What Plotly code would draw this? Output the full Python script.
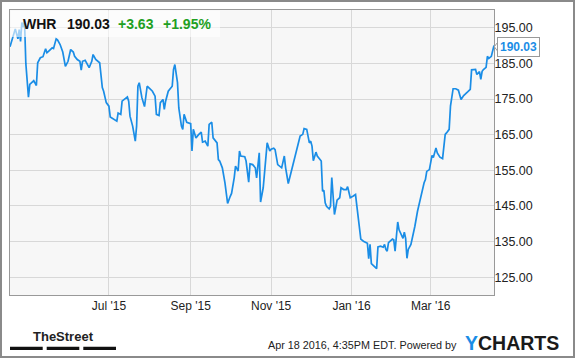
import plotly.graph_objects as go

dates = [
    "2015-04-17", "2015-04-21", "2015-04-23", "2015-04-24", "2015-04-25", "2015-04-26", "2015-04-27", "2015-04-28",
    "2015-04-29", "2015-04-30", "2015-05-01", "2015-05-02", "2015-05-04", "2015-05-05", "2015-05-07", "2015-05-08",
    "2015-05-10", "2015-05-12", "2015-05-14", "2015-05-15", "2015-05-17", "2015-05-19", "2015-05-20", "2015-05-22",
    "2015-05-23", "2015-05-25", "2015-05-27", "2015-05-29", "2015-05-31", "2015-06-02", "2015-06-04", "2015-06-05",
    "2015-06-07", "2015-06-09", "2015-06-10", "2015-06-11", "2015-06-13", "2015-06-15", "2015-06-16", "2015-06-18",
    "2015-06-19", "2015-06-21", "2015-06-23", "2015-06-24", "2015-06-26", "2015-06-27", "2015-06-29", "2015-07-01",
    "2015-07-02", "2015-07-04", "2015-07-07", "2015-07-08", "2015-07-10", "2015-07-11", "2015-07-13", "2015-07-15",
    "2015-07-16", "2015-07-17", "2015-07-19", "2015-07-21", "2015-07-22", "2015-07-23", "2015-07-24", "2015-07-26",
    "2015-07-28", "2015-07-30", "2015-08-01", "2015-08-03", "2015-08-05", "2015-08-06", "2015-08-08", "2015-08-09",
    "2015-08-11", "2015-08-12", "2015-08-13", "2015-08-15", "2015-08-16", "2015-08-18", "2015-08-19", "2015-08-20",
    "2015-08-22", "2015-08-23", "2015-08-25", "2015-08-26", "2015-08-27", "2015-08-29", "2015-09-01", "2015-09-02",
    "2015-09-03", "2015-09-05", "2015-09-07", "2015-09-09", "2015-09-10", "2015-09-12", "2015-09-14", "2015-09-15",
    "2015-09-17", "2015-09-18", "2015-09-21", "2015-09-22", "2015-09-23", "2015-09-25", "2015-09-27", "2015-09-29",
    "2015-10-01", "2015-10-02", "2015-10-04", "2015-10-05", "2015-10-07", "2015-10-08", "2015-10-09", "2015-10-12",
    "2015-10-13", "2015-10-15", "2015-10-16", "2015-10-18", "2015-10-20", "2015-10-21", "2015-10-23", "2015-10-24",
    "2015-10-26", "2015-10-28", "2015-10-29", "2015-10-31", "2015-11-01", "2015-11-03", "2015-11-04", "2015-11-06",
    "2015-11-09", "2015-11-11", "2015-11-12", "2015-11-14", "2015-11-16", "2015-11-18", "2015-11-19", "2015-11-21",
    "2015-11-23", "2015-11-25", "2015-11-26", "2015-11-28", "2015-11-29", "2015-11-30", "2015-12-01", "2015-12-02",
    "2015-12-03", "2015-12-05", "2015-12-06", "2015-12-08", "2015-12-09", "2015-12-10", "2015-12-11", "2015-12-12",
    "2015-12-13", "2015-12-15", "2015-12-16", "2015-12-17", "2015-12-18", "2015-12-19", "2015-12-20", "2015-12-21",
    "2015-12-23", "2015-12-24", "2015-12-26", "2015-12-28", "2015-12-29", "2015-12-31", "2016-01-02", "2016-01-04",
    "2016-01-05", "2016-01-07", "2016-01-08", "2016-01-10", "2016-01-13", "2016-01-14", "2016-01-15", "2016-01-16",
    "2016-01-18", "2016-01-20", "2016-01-21", "2016-01-23", "2016-01-25", "2016-01-26", "2016-01-27", "2016-01-28",
    "2016-01-29", "2016-01-30", "2016-02-01", "2016-02-02", "2016-02-03", "2016-02-04", "2016-02-05", "2016-02-06",
    "2016-02-08", "2016-02-09", "2016-02-10", "2016-02-11", "2016-02-12", "2016-02-13", "2016-02-15", "2016-02-16",
    "2016-02-18", "2016-02-20", "2016-02-22", "2016-02-24", "2016-02-25", "2016-02-26", "2016-02-27", "2016-02-29",
    "2016-03-01", "2016-03-02", "2016-03-03", "2016-03-05", "2016-03-06", "2016-03-08", "2016-03-10", "2016-03-12",
    "2016-03-13", "2016-03-15", "2016-03-16", "2016-03-18", "2016-03-20", "2016-03-22", "2016-03-24", "2016-03-26",
    "2016-03-29", "2016-03-31", "2016-04-01", "2016-04-04", "2016-04-05", "2016-04-07", "2016-04-08", "2016-04-09",
    "2016-04-10", "2016-04-12", "2016-04-13", "2016-04-14", "2016-04-16", "2016-04-17", "2016-04-18",
]

prices = [
    189.7, 194.7, 191.9, 194.5, 191.2, 196.5, 195.2, 196.9,
    185.0, 180.5, 175.5, 179.1, 180.0, 180.2, 178.8, 185.2,
    186.6, 186.9, 189.1, 188.0, 188.7, 189.4, 189.2, 191.9,
    191.6, 190.3, 188.2, 184.2, 185.6, 188.9, 188.2, 187.0,
    186.1, 185.6, 183.1, 185.6, 185.9, 184.4, 183.8, 185.6,
    187.5, 186.1, 185.3, 185.2, 178.2, 177.2, 174.0, 173.0,
    170.0, 169.5, 168.8, 171.1, 170.7, 174.4, 174.9, 175.6,
    174.4, 170.2, 167.4, 163.2, 167.4, 178.6, 179.6, 175.4,
    172.9, 178.6, 177.9, 177.2, 175.8, 170.7, 170.4, 174.0,
    174.9, 172.1, 174.4, 177.2, 177.7, 178.6, 183.3, 184.7,
    179.6, 172.5, 167.4, 166.5, 170.7, 168.5, 168.1, 160.4,
    166.5, 164.1, 165.0, 165.7, 162.9, 163.2, 161.8, 167.9,
    168.5, 164.1, 162.7, 158.0, 157.6, 155.7, 151.5, 145.7,
    147.7, 148.5, 152.9, 156.2, 154.8, 160.4, 159.0, 158.8,
    157.6, 151.7, 156.8, 156.6, 155.7, 152.9, 159.9, 146.1,
    150.1, 158.0, 162.7, 160.4, 160.9, 161.2, 160.8, 156.6,
    155.7, 159.0, 155.7, 151.3, 154.3, 157.6, 159.0, 162.3,
    164.6, 165.1, 166.7, 166.5, 164.6, 162.7, 163.2, 161.8,
    157.7, 160.1, 159.0, 158.0, 157.6, 149.1, 149.4, 145.9,
    144.9, 144.2, 144.9, 153.0, 147.7, 142.6, 144.5, 146.6,
    147.3, 150.1, 149.6, 149.6, 150.4, 147.3, 147.7, 148.2,
    145.0, 139.4, 135.7, 135.1, 134.5, 130.2, 134.2, 128.8,
    128.1, 127.4, 133.5, 133.7, 133.4, 134.2, 132.8, 132.3,
    134.7, 135.1, 135.7, 135.5, 132.3, 136.5, 140.5, 138.3,
    136.9, 135.9, 137.6, 135.9, 130.3, 132.8, 134.2, 135.7,
    139.3, 143.5, 146.8, 150.1, 151.5, 152.4, 154.7, 155.2,
    157.6, 159.2, 158.6, 161.3, 159.9, 158.7, 158.3, 165.1,
    165.5, 166.5, 173.0, 177.9, 177.9, 177.5, 174.9, 176.0,
    177.0, 177.7, 183.2, 183.3, 181.9, 182.7, 180.5, 182.8,
    183.3, 183.9, 187.0, 186.4, 187.0, 188.9, 190.03,
]

x_tick_vals = ["2015-07-01", "2015-09-01", "2015-11-01", "2016-01-01", "2016-03-01"]
x_tick_text = ["Jul '15", "Sep '15", "Nov '15", "Jan '16", "Mar '16"]
y_tick_vals = [125, 135, 145, 155, 165, 175, 185, 195]

ticker = "WHR"
last_price = "190.03"
change = "+3.63"
change_pct = "+1.95%"
footer_text = "Apr 18 2016, 4:35PM EDT. Powered by"

BLUE = "#1a8de6"
GREEN = "#22a022"
FONT = "Arial, Liberation Sans, sans-serif"

# layout geometry (pixels)
W, H = 575, 358
L, R, T, B = 10, 81, 10, 63
PW, PH = W - L - R, H - T - B


def px(x):
    return (x - L) / PW


def py(y):
    return (H - B - y) / PH


fig = go.Figure()
fig.add_trace(go.Scatter(
    x=dates, y=prices, mode="lines",
    line=dict(color=BLUE, width=1.7), hoverinfo="skip", showlegend=False,
))

shapes = []
# outer border
shapes.append(dict(type="rect", xref="paper", yref="paper",
                   x0=px(1), x1=px(574), y0=py(357), y1=py(1),
                   line=dict(color="#8a8a8a", width=2), fillcolor="rgba(0,0,0,0)", layer="above"))
# header translucent box
shapes.append(dict(type="rect", xref="paper", yref="paper",
                   x0=px(10.5), x1=px(220), y0=py(37), y1=py(10.5),
                   line=dict(width=0), fillcolor="rgba(255,255,255,0.6)", layer="above"))
# TheStreet bars
for a, b in [(10, 42.7), (46.7, 79.3), (83.3, 116)]:
    shapes.append(dict(type="rect", xref="paper", yref="paper",
                       x0=px(a), x1=px(b), y0=py(350), y1=py(346.7),
                       line=dict(width=0), fillcolor="#111"))
# pointer of last-price label
shapes.append(dict(type="path", xref="paper", yref="paper",
                   path=f"M {px(497.5)},{py(42.5)} L {px(494.3)},{py(46.7)} L {px(497.5)},{py(51)}",
                   line=dict(color="#999", width=1), fillcolor="white", layer="above"))

annotations = [
    dict(text="<b>" + ticker + "</b>", x=px(20.5), y=py(24), xanchor="left", yanchor="middle",
         font=dict(size=14, color="#111")),
    dict(text="<b>" + last_price + "</b>", x=px(64.5), y=py(24), xanchor="left", yanchor="middle",
         font=dict(size=14, color="#111")),
    dict(text="<b>" + change + "</b>", x=px(115.5), y=py(24), xanchor="left", yanchor="middle",
         font=dict(size=14, color=GREEN)),
    dict(text="<b>" + change_pct + "</b>", x=px(160.5), y=py(24), xanchor="left", yanchor="middle",
         font=dict(size=14, color=GREEN)),
    dict(text="<b>" + last_price + "</b>", x=px(497), y=py(46.7), xanchor="left", yanchor="middle",
         font=dict(size=12, color=BLUE), bgcolor="white", bordercolor="#999", borderwidth=1, borderpad=2),
    dict(text="<b>TheStreet</b>", x=px(63), y=py(336.5), xanchor="center", yanchor="middle",
         font=dict(size=13, color="#222", family="Liberation Sans Narrow, Arial Narrow, sans-serif")),
    dict(text=footer_text, x=px(459), y=py(345.5), xanchor="right", yanchor="middle",
         font=dict(size=10.8, color="#222")),
    dict(text=f"<b><span style='color:{BLUE}'>Y</span>CHARTS</b>", x=px(463), y=py(342.5),
         xanchor="left", yanchor="middle", font=dict(size=19.5, color="#1a1a1a")),
]
for a in annotations:
    a.update(xref="paper", yref="paper", showarrow=False)

fig.update_layout(
    width=W, height=H,
    margin=dict(l=L, r=R, t=T, b=B, pad=0),
    paper_bgcolor="white", plot_bgcolor="#f7f7f7",
    font=dict(family=FONT, size=12, color="#222"),
    shapes=shapes, annotations=annotations,
    showlegend=False,
    xaxis=dict(
        type="date", range=["2015-04-17", "2016-04-18"],
        tickvals=x_tick_vals, ticktext=x_tick_text,
        showgrid=True, gridcolor="#d8d8d8", gridwidth=1,
        showline=True, linecolor="#999", linewidth=1, mirror=True,
        ticks="", zeroline=False, fixedrange=True,
        tickfont=dict(size=12, color="#222"),
    ),
    yaxis=dict(
        range=[120, 200], side="right",
        tickvals=y_tick_vals, tickformat=".2f",
        showgrid=True, gridcolor="#d8d8d8", gridwidth=1,
        showline=True, linecolor="#999", linewidth=1, mirror=True,
        ticks="", zeroline=False, fixedrange=True,
        ticklabelstandoff=-3,
        tickfont=dict(size=12.5, color="#222"),
    ),
)

fig.write_html("out.html", config={"displayModeBar": False})
